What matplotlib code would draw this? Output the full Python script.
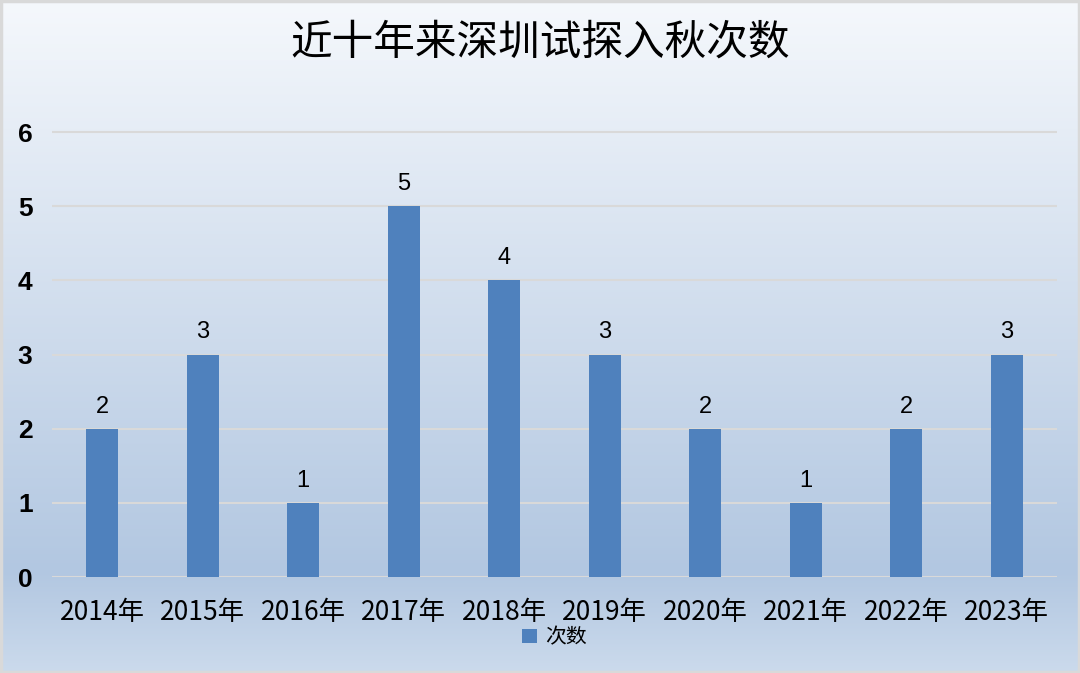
import numpy as np
import matplotlib
matplotlib.use("Agg")
import matplotlib.pyplot as plt
from matplotlib.colors import LinearSegmentedColormap
from matplotlib.patches import Rectangle

plt.rcParams['font.family'] = ['Noto Sans CJK SC', 'DejaVu Sans']

years = ["2014年", "2015年", "2016年", "2017年", "2018年",
         "2019年", "2020年", "2021年", "2022年", "2023年"]
counts = [2, 3, 1, 5, 4, 3, 2, 1, 2, 3]
title = "近十年来深圳试探入秋次数"
series_name = "次数"

fig = plt.figure(figsize=(10.8, 6.73), dpi=100)

# background gradient
bg = fig.add_axes([0, 0, 1, 1], zorder=-1)
cmap = LinearSegmentedColormap.from_list(
    "bg", [(0.0, "#f5f8fc"), (0.85, "#b2c7e1"), (1.0, "#cbdaec")])
grad = np.linspace(0, 1, 256).reshape(-1, 1)
bg.imshow(grad, aspect="auto", cmap=cmap, extent=[0, 1, 0, 1], origin="upper")
bg.set_xlim(0, 1)
bg.set_ylim(0, 1)
bg.axis("off")
bg.add_patch(Rectangle((0.001, 0.001), 0.998, 0.997, fill=False,
                       edgecolor="#d9d9d9", lw=2.5, transform=bg.transAxes))

ax = fig.add_axes([0.0481, 0.1426, 0.9306, 0.6667])
ax.set_facecolor("none")
x = np.arange(len(years))
ax.bar(x, counts, width=0.32, color="#4f81bd", zorder=3, label=series_name)
for xi, c in zip(x, counts):
    ax.text(xi, c + 0.15, str(c), ha="center", va="bottom", fontsize=17,
            color="black", family=["Liberation Sans", "DejaVu Sans"])

ax.set_xlim(-0.5, len(years) - 0.5)
ax.set_ylim(0, 6.05)
ax.set_yticks(range(7))
ax.yaxis.grid(True, color="#d9d9d9", lw=1.5, zorder=0)
for s in ax.spines.values():
    s.set_visible(False)
ax.tick_params(axis="both", length=0)
ax.tick_params(axis="y", pad=14)
ax.tick_params(axis="x", pad=16)
ax.set_xticks(x)
ax.set_xticklabels(years, fontsize=19)
for lbl in ax.get_yticklabels():
    lbl.set_fontsize(19)
    lbl.set_fontweight("bold")
    lbl.set_family(["Liberation Sans", "DejaVu Sans"])

fig.text(0.5, 0.936, title, ha="center", va="center", fontsize=30)

ax.legend(loc="upper center", bbox_to_anchor=(0.5, -0.068), frameon=False,
          fontsize=15, handlelength=0.7, handleheight=0.7, handletextpad=0.4)

fig.savefig("out.png", dpi=100)
